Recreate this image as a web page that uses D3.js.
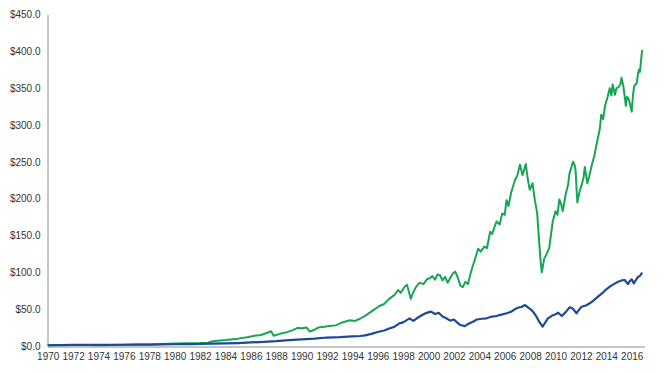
<!DOCTYPE html>
<html>
<head>
<meta charset="utf-8">
<script src="https://cdn.jsdelivr.net/npm/d3@7"></script>
<style>
  body { margin: 0; background: #fff; }
  text { font-family: "Liberation Sans", Arial, sans-serif; }
</style>
</head>
<body>
<div id="chart"></div>
<script>
var width  = 665;
var height = 373;

// tick labels
var yTicks = [0, 50, 100, 150, 200, 250, 300, 350, 400, 450];
var xTicks = d3.range(1970, 2017, 2);

// green series (decimal year, value)
var greenYears = [1970, 1971, 1972, 1973, 1974, 1975, 1976, 1977, 1978, 1979, 1980, 1981, 1982, 1982.6,
    1983, 1984, 1985, 1985.7, 1986.3, 1986.8, 1987.3, 1987.6, 1987.8, 1988.3, 1988.8, 1989.3, 1989.7,
    1990, 1990.4, 1990.65, 1991, 1991.3, 1991.8, 1992.2, 1992.7, 1993.2, 1993.8, 1994.2, 1994.6,
    1995, 1995.6, 1996.1, 1996.5, 1996.9, 1997.3, 1997.6, 1997.8, 1998.1, 1998.3, 1998.6, 1998.8,
    1999, 1999.3, 1999.6, 1999.9, 2000.1, 2000.3, 2000.5, 2000.7, 2000.9, 2001.1, 2001.3, 2001.5,
    2001.7, 2001.9, 2002.1, 2002.3, 2002.5, 2002.7, 2002.9, 2003.1, 2003.3, 2003.6, 2003.9, 2004.1,
    2004.4, 2004.6, 2004.85, 2005, 2005.35, 2005.6, 2005.8, 2006, 2006.14, 2006.3, 2006.5, 2006.8,
    2007, 2007.2, 2007.4, 2007.66, 2007.8, 2007.97, 2008.19, 2008.37, 2008.55, 2008.7, 2008.85,
    2008.92, 2009.1, 2009.3, 2009.5, 2009.78, 2010, 2010.15, 2010.3, 2010.45, 2010.57, 2010.8,
    2011, 2011.1, 2011.38, 2011.5, 2011.58, 2011.72, 2011.9, 2012.05, 2012.2, 2012.31, 2012.5, 2012.65,
    2012.85, 2013.05, 2013.25, 2013.5, 2013.6, 2013.75, 2013.9, 2014.1, 2014.27, 2014.4, 2014.5,
    2014.68, 2014.8, 2014.94, 2015.1, 2015.2, 2015.35, 2015.54, 2015.62, 2015.72, 2015.85, 2016,
    2016.1, 2016.2, 2016.4, 2016.5, 2016.57, 2016.65, 2016.82];
var greenValues = [1.0, 1.2, 1.4, 1.3, 1.1, 1.4, 1.8, 1.9, 2.1, 2.6, 3.3, 3.6, 4.0, 4.5,
    6.5, 8, 10, 12, 14, 15, 18, 20, 14, 16.5, 18.5, 21.5, 24.5,
    24, 25, 19.5, 22, 25, 26, 27, 28, 32, 35, 34, 37,
    41, 48, 54, 57, 64, 69, 76, 72, 80, 83, 64, 73,
    80, 86, 84, 91, 92, 95, 90, 97, 96, 89, 94, 86,
    92, 98, 101, 93, 82, 80, 87, 84, 98, 115, 132, 128,
    135, 133, 155, 152, 169, 165, 180, 178, 198, 190, 208, 225,
    232, 246, 232, 247, 228, 212, 221, 198, 181, 144, 110,
    100, 118, 125, 133, 169, 183, 178, 199, 192, 183, 206,
    220, 234, 250, 246, 238, 195, 210, 218, 228, 243, 221, 230,
    245, 258, 275, 296, 314, 308, 326, 338, 350, 340, 355,
    341, 350, 351, 355, 364, 352, 326, 338, 337, 330, 318,
    340, 353, 357, 370, 375, 372, 402];

// blue series (decimal year, value)
var blueYears = [1970, 1971, 1972, 1973, 1974, 1975, 1976, 1977, 1978, 1979, 1980, 1981, 1982, 1983,
    1984, 1985, 1986, 1987, 1988, 1989, 1990, 1991, 1992, 1993, 1994, 1994.6, 1995, 1995.5, 1996,
    1996.5, 1996.95, 1997.3, 1997.7, 1998, 1998.5, 1998.8, 1999.1, 1999.5, 1999.85, 2000.2, 2000.5,
    2000.8, 2001.1, 2001.4, 2001.7, 2002, 2002.3, 2002.5, 2002.86, 2003.1, 2003.5, 2003.8, 2004.2,
    2004.57, 2005, 2005.35, 2005.6, 2006.14, 2006.5, 2006.9, 2007.05, 2007.3, 2007.6, 2007.85, 2008.1,
    2008.3, 2008.5, 2008.75, 2008.98, 2009.2, 2009.4, 2009.7, 2010, 2010.2, 2010.5, 2010.8, 2011.1,
    2011.35, 2011.65, 2011.8, 2012.05, 2012.4, 2012.7, 2013, 2013.35, 2013.7, 2014, 2014.3, 2014.6,
    2014.93, 2015.2, 2015.45, 2015.7, 2015.85, 2016, 2016.17, 2016.35, 2016.5, 2016.65, 2016.82];
var blueValues = [1.0, 1.3, 1.4, 1.5, 1.4, 1.5, 1.7, 1.8, 2.0, 2.2, 2.4, 2.5, 2.7, 3.2,
    3.5, 4.0, 4.8, 5.6, 6.5, 8.0, 9.0, 10.0, 11.5, 12.0, 13.0, 13.6, 14.5, 16.5, 19,
    21, 24, 26, 30.8, 32, 37.6, 34, 38, 42, 45, 46.6, 43.4,
    45, 40, 37.6, 34.4, 36, 31, 28.5, 27, 29.8, 33, 36, 37,
    37.6, 40, 40.7, 42, 44.4, 46.5, 51, 52, 53, 55.6, 52, 48.9,
    45, 39.8, 32, 26.2, 32, 37.6, 41, 43, 45.2, 40.7, 46, 52.5,
    51, 44.4, 48, 53.3, 55, 58, 62, 67, 72, 77, 81, 84,
    87.3, 89, 89.6, 84, 88, 90.5, 85, 90, 94, 95, 99.5];

var x = d3.scaleLinear().domain([1970, 2016]).range([47.7, 631.7]);
var y = d3.scaleLinear().domain([0, 450]).range([346, 14.5]);

var svg = d3.select("#chart")
    .append("svg")
    .attr("width", width)
    .attr("height", height);

// y axis
var yAxis = svg.append("g")
    .attr("transform", "translate(47.5,0)")
    .call(d3.axisLeft(y).tickValues(yTicks).tickSize(0).tickPadding(7)
        .tickFormat(function(d) { return "$" + d3.format(".1f")(d); }));
yAxis.select(".domain").attr("stroke", "#8c8c8c");
yAxis.selectAll("text").style("font-size", "10px").attr("fill", "#333");

// x axis
var xAxis = svg.append("g")
    .attr("transform", "translate(0,346.5)")
    .call(d3.axisBottom(x.copy().domain([1970, 2017]).range([47.7, 644.4]))
        .tickValues(xTicks).tickSize(0).tickPadding(6)
        .tickFormat(d3.format("d")));
xAxis.select(".domain").attr("stroke", "#8c8c8c");
xAxis.selectAll("text").style("font-size", "10px").attr("fill", "#333");

var line = d3.line()
    .x(function(d) { return x(d[0]); })
    .y(function(d) { return y(d[1]); });

svg.append("path")
    .datum(d3.zip(greenYears, greenValues))
    .attr("d", line)
    .attr("fill", "none")
    .attr("stroke", "#18a553")
    .attr("stroke-width", 2)
    .attr("stroke-linejoin", "round");

svg.append("path")
    .datum(d3.zip(blueYears, blueValues))
    .attr("d", line)
    .attr("fill", "none")
    .attr("stroke", "#1c4a97")
    .attr("stroke-width", 2.2)
    .attr("stroke-linejoin", "round");
</script>
</body>
</html>
